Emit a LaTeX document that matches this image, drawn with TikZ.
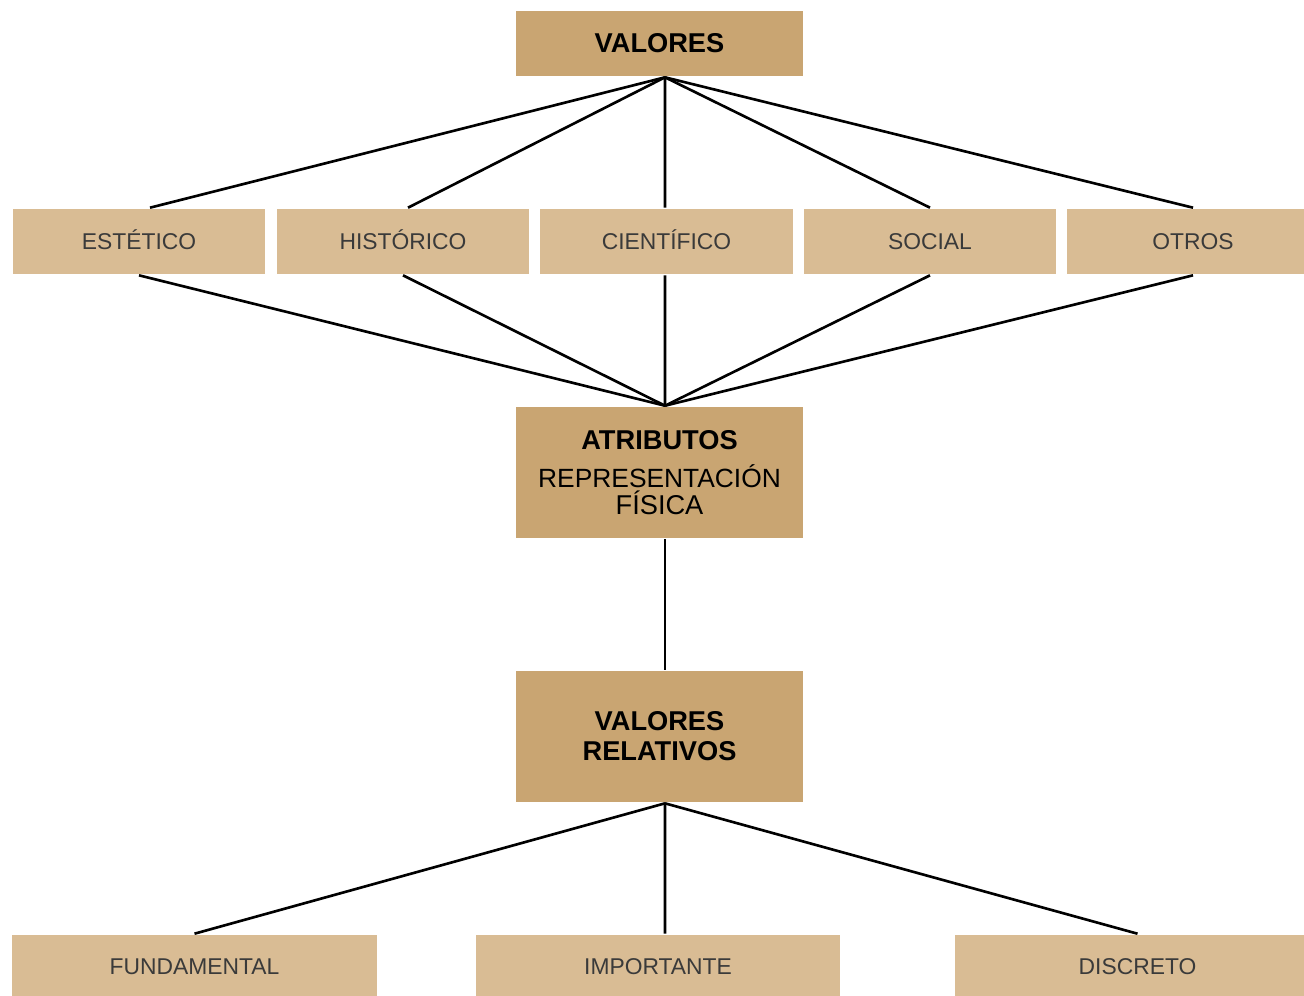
\documentclass[tikz,border=0pt]{standalone}
\usepackage{fontspec}
\setmainfont{Liberation Sans}
\usepackage{tikz}
\definecolor{cajaosc}{HTML}{C9A572}
\definecolor{cajacla}{HTML}{D9BC94}
\definecolor{textogris}{HTML}{3A3A3A}

\begin{document}
\begin{tikzpicture}[x=0.02cm, y=-0.02cm, line width=1.5pt,
    fuerte/.style={fill=cajaosc, minimum width=5.74cm, font=\fontsize{15.5}{15.5}\selectfont, align=center, inner sep=0pt},
    suave/.style={fill=cajacla, minimum width=5.06cm, minimum height=1.3cm, text=textogris, text height=9.5pt, text depth=0pt, font=\fontsize{13}{15}\selectfont, inner sep=0pt}]
  \clip (0,0) rectangle (1304,995);
  \node[fuerte, minimum height=1.3cm]  (val) at (659.5,43.5) {\textbf{VALORES}};
  \node[suave]  (est) at (139,241.5) {ESTÉTICO};
  \node[suave]  (his) at (403,241.5) {HISTÓRICO};
  \node[suave]  (cie) at (666.5,241.5) {CIENTÍFICO};
  \node[suave]  (soc) at (930,241.5) {SOCIAL};
  \node[suave]  (otr) at (1193,241.5) {OTROS};
  \node[fuerte, minimum height=2.62cm] (atr) at (659.5,472.5) {\textbf{ATRIBUTOS}\\[6pt]\fontsize{15}{13.5}\selectfont REPRESENTACIÓN\\FÍSICA};
  \node[fuerte, minimum height=2.62cm] (rel) at (659.5,736.5) {\textbf{VALORES}\\[1.5pt]\textbf{RELATIVOS}};
  \node[suave, minimum width=7.3cm, minimum height=1.24cm]  (fun) at (194.5,966) {FUNDAMENTAL};
  \node[suave, minimum width=7.3cm, minimum height=1.24cm]  (imp) at (658,966) {IMPORTANTE};
  \node[suave, minimum width=7.3cm, minimum height=1.24cm]  (dis) at (1137.5,966) {DISCRETO};
  % lines meet a little right of the box centres
  \path  ([xshift=0.11cm]val.south) edge ([xshift=0.22cm]est.north)
         ([xshift=0.11cm]val.south) edge ([xshift=0.1cm]his.north)
         ([xshift=0.11cm]val.south) edge ([xshift=-0.03cm]cie.north)
         ([xshift=0.11cm]val.south) edge (soc.north)
         ([xshift=0.11cm]val.south) edge (otr.north);
  \path  (est.south) edge ([xshift=0.11cm]atr.north)
         (his.south) edge ([xshift=0.11cm]atr.north)
         ([xshift=-0.03cm]cie.south) edge ([xshift=0.11cm]atr.north)
         (soc.south) edge ([xshift=0.11cm]atr.north)
         (otr.south) edge ([xshift=0.11cm]atr.north);
  \draw ([xshift=0.11cm]atr.south) -- ([xshift=0.11cm]rel.north);
  \path  ([xshift=0.11cm]rel.south) edge (fun.north)
         ([xshift=0.11cm]rel.south) edge ([xshift=0.14cm]imp.north)
         ([xshift=0.11cm]rel.south) edge (dis.north);
\end{tikzpicture}
\end{document}
